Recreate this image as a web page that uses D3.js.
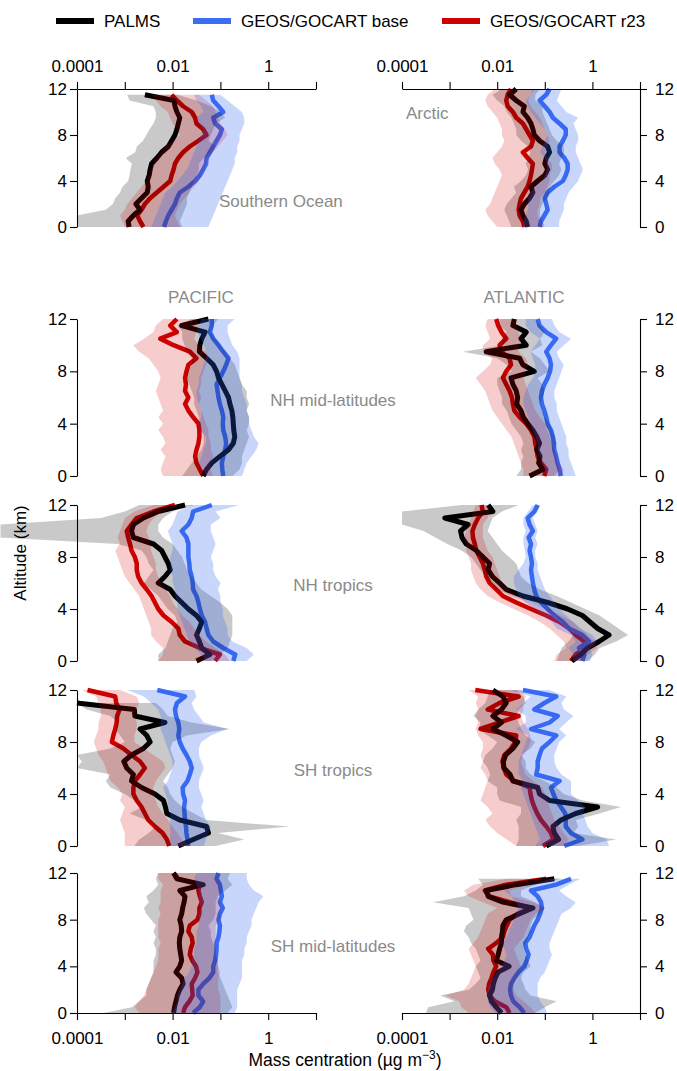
<!DOCTYPE html>
<html>
<head>
<meta charset="utf-8">
<script src="https://cdn.jsdelivr.net/npm/d3@7"></script>
<style>
  body { margin: 0; background: #fff; }
  svg { display: block; }
  text { font-family: "Liberation Sans", Arial, Helvetica, sans-serif; }
</style>
</head>
<body>
<svg id="chart" width="677" height="1071"></svg>
<script>
// Vertical profiles of aerosol mass concentration, PALMS vs two GEOS/GOCART runs.
// Values below are log10(concentration in µg m-3), one per altitude level.

const ALT = [0, 0.5, 1, 1.5, 2, 2.5, 3, 3.5, 4, 4.5, 5, 5.5, 6, 6.5, 7, 7.5, 8, 8.5, 9, 9.5, 10, 10.5, 11, 11.5, 12];

// --- Southern Ocean
const soPalms   = [-2.91,-2.93,-2.82,-2.68,-2.77,-2.65,-2.53,-2.51,-2.53,-2.49,-2.47,-2.44,-2.33,-2.23,-2.09,-2.02,-1.95,-1.91,-1.88,-1.85,-1.91,-1.95,-1.97,-2.58,null];
const soPalmsLo = [-4,-4,-4,-3.4,-3.25,-3.2,-3.1,-3.05,-2.93,-2.9,-2.88,-2.85,-2.98,-2.78,-2.75,-2.62,-2.55,-2.48,-2.4,-2.35,-2.35,-2.4,-2.9,-2.95,null];
const soPalmsHi = [-1.8,-1.85,-1.8,-1.75,-1.7,-1.7,-1.65,-1.6,-1.55,-1.5,-1.45,-1.45,-1.35,-1.2,-1.1,-1.25,-1.2,-1.15,-1.1,-0.9,-1.0,-1.2,-1.5,-1.9,null];
const soBase    = [-2.18,-2.14,-2.09,-2.02,-1.95,-1.91,-1.85,-1.67,-1.53,-1.43,-1.36,-1.3,-1.29,-1.22,-1.15,-1.08,-1.01,-0.97,-1.11,-1.15,-0.94,-1.04,-1.15,-1.18,null];
const soBaseLo  = [-2.45,-2.4,-2.35,-2.3,-2.25,-2.2,-2.15,-2.0,-1.9,-1.8,-1.7,-1.65,-1.6,-1.55,-1.5,-1.45,-1.4,-1.35,-1.45,-1.5,-1.35,-1.4,-1.5,-1.55,null];
const soBaseHi  = [-1.25,-1.2,-1.15,-1.1,-1.05,-1.0,-0.95,-0.9,-0.85,-0.8,-0.75,-0.7,-0.7,-0.65,-0.65,-0.6,-0.6,-0.55,-0.5,-0.5,-0.55,-0.7,-0.85,-1.0,null];
const soR23     = [-2.61,-2.68,-2.74,-2.65,-2.58,-2.47,-2.33,-2.19,-2.05,-2.02,-1.98,-1.95,-1.88,-1.78,-1.64,-1.46,-1.29,-1.36,-1.5,-1.53,-1.6,-1.78,-1.91,-2.02,null];
const soR23Lo   = [-3.0,-3.05,-3.1,-3.0,-2.95,-2.85,-2.75,-2.65,-2.55,-2.5,-2.45,-2.4,-2.35,-2.25,-2.15,-2.0,-1.85,-1.9,-2.0,-2.05,-2.1,-2.25,-2.35,-2.45,null];
const soR23Hi   = [-1.85,-1.9,-1.95,-1.9,-1.85,-1.75,-1.65,-1.55,-1.45,-1.4,-1.35,-1.3,-1.25,-1.15,-1.05,-0.95,-0.85,-0.9,-1.0,-1.05,-1.1,-1.15,-1.3,-1.45,null];

// --- Arctic
const arcPalms   = [-1.36,-1.39,-1.46,-1.5,-1.43,-1.32,-1.25,-1.29,-1.15,-1.0,-0.94,-1.0,-0.97,-0.9,-0.94,-1.11,-1.22,-1.25,-1.29,-1.36,-1.46,-1.43,-1.6,-1.74,-1.6];
const arcPalmsLo = [-1.7,-1.75,-1.8,-1.85,-1.8,-1.7,-1.6,-1.65,-1.5,-1.4,-1.35,-1.4,-1.35,-1.3,-1.35,-1.5,-1.6,-1.6,-1.65,-1.7,-1.8,-1.85,-2.0,-2.1,-1.9];
const arcPalmsHi = [-1.0,-1.05,-1.1,-1.1,-1.05,-0.95,-0.9,-0.9,-0.8,-0.7,-0.65,-0.7,-0.65,-0.6,-0.6,-0.75,-0.85,-0.9,-0.95,-1.0,-1.05,-1.05,-1.2,-1.2,-1.1];
const arcBase    = [-1.11,-1.08,-1.01,-0.94,-0.97,-1.0,-0.94,-0.8,-0.62,-0.56,-0.52,-0.52,-0.59,-0.69,-0.69,-0.62,-0.56,-0.56,-0.69,-0.83,-0.9,-1.0,-1.11,-0.97,-0.9];
const arcBaseLo  = [-1.45,-1.45,-1.4,-1.35,-1.35,-1.35,-1.3,-1.2,-1.05,-1.0,-0.95,-0.95,-1.0,-1.1,-1.05,-1.0,-0.95,-1.0,-1.1,-1.2,-1.3,-1.35,-1.4,-1.3,-1.25];
const arcBaseHi  = [-0.7,-0.7,-0.65,-0.6,-0.6,-0.55,-0.5,-0.4,-0.3,-0.25,-0.2,-0.25,-0.3,-0.35,-0.35,-0.3,-0.3,-0.35,-0.4,-0.3,-0.55,-0.65,-0.75,-0.7,-0.65];
const arcR23     = [-1.43,-1.46,-1.53,-1.55,-1.53,-1.5,-1.43,-1.36,-1.32,-1.29,-1.27,-1.25,-1.36,-1.46,-1.29,-1.25,-1.32,-1.39,-1.46,-1.6,-1.67,-1.78,-1.81,-1.78,-1.71];
const arcR23Lo   = [-2.0,-2.1,-2.2,-2.25,-2.15,-2.1,-2.05,-2.0,-1.95,-1.9,-1.95,-2.05,-2.1,-2.0,-1.9,-1.85,-1.9,-1.9,-1.95,-2.0,-2.1,-2.2,-2.25,-2.2,-2.05];
const arcR23Hi   = [-1.05,-1.1,-1.15,-1.15,-1.1,-1.1,-1.0,-0.95,-0.9,-0.9,-0.85,-0.85,-0.95,-1.0,-0.95,-0.9,-0.95,-1.0,-1.05,-1.1,-1.2,-1.3,-1.35,-1.3,-1.2];

// --- Pacific, NH mid-latitudes
const pacNmPalms   = [-1.36,-1.29,-1.18,-1.01,-0.83,-0.73,-0.7,-0.72,-0.73,-0.74,-0.76,-0.8,-0.83,-0.9,-0.97,-1.04,-1.08,-1.15,-1.29,-1.44,-1.43,-1.39,-1.32,-1.81,-1.25];
const pacNmPalmsLo = [-1.8,-1.7,-1.6,-1.5,-1.4,-1.35,-1.35,-1.4,-1.45,-1.45,-1.5,-1.55,-1.55,-1.6,-1.65,-1.7,-1.7,-1.6,-1.6,-1.7,-1.75,-1.8,-1.8,-1.9,-1.6];
const pacNmPalmsHi = [-0.75,-0.6,-0.55,-0.55,-0.5,-0.45,-0.4,-0.45,-0.4,-0.4,-0.45,-0.4,-0.45,-0.45,-0.55,-0.6,-0.65,-0.7,-0.8,-0.9,-1.0,-1.1,-1.2,-1.15,-1.05];
const pacNmBase    = [-0.94,-0.96,-0.97,-0.94,-0.9,-0.88,-0.9,-0.94,-0.95,-0.94,-0.97,-1.01,-1.04,-1.06,-1.08,-1.01,-0.94,-0.88,-0.83,-0.94,-1.04,-1.15,-1.22,-1.18,-1.18];
const pacNmBaseLo  = [-1.3,-1.35,-1.45,-1.4,-1.35,-1.3,-1.3,-1.4,-1.45,-1.4,-1.4,-1.45,-1.5,-1.5,-1.45,-1.45,-1.4,-1.35,-1.3,-1.3,-1.35,-1.4,-1.5,-1.45,-1.4];
const pacNmBaseHi  = [-0.55,-0.5,-0.45,-0.35,-0.25,-0.2,-0.3,-0.35,-0.4,-0.4,-0.45,-0.45,-0.5,-0.55,-0.55,-0.6,-0.6,-0.6,-0.6,-0.65,-0.75,-0.8,-0.85,-0.85,-0.7];
const pacNmR23     = [-1.36,-1.43,-1.5,-1.53,-1.5,-1.46,-1.44,-1.44,-1.46,-1.57,-1.67,-1.74,-1.67,-1.74,-1.72,-1.74,-1.71,-1.67,-1.5,-1.64,-1.98,-2.26,-1.91,-2.05,-1.91];
const pacNmR23Lo   = [-2.2,-2.25,-2.2,-2.15,-2.25,-2.15,-2.2,-2.3,-2.2,-2.3,-2.2,-2.25,-2.3,-2.35,-2.3,-2.25,-2.3,-2.4,-2.5,-2.7,-2.82,-2.6,-2.4,-2.35,-2.2];
const pacNmR23Hi   = [-1.15,-1.2,-1.2,-1.15,-1.2,-1.2,-1.25,-1.25,-1.3,-1.35,-1.4,-1.45,-1.4,-1.45,-1.4,-1.4,-1.35,-1.3,-1.25,-1.3,-1.45,-1.55,-1.5,-1.45,-1.5];

// --- Atlantic, NH mid-latitudes
const atlNmPalms   = [-1.32,-1.04,-1.13,-1.1,-1.17,-1.11,-1.17,-1.25,-1.36,-1.45,-1.5,-1.59,-1.57,-1.6,-1.67,-1.71,-1.22,-1.46,-1.53,-2.23,-1.39,-1.5,-1.39,-1.67,-1.64];
const atlNmPalmsLo = [-1.6,-1.5,-1.5,-1.45,-1.5,-1.45,-1.5,-1.6,-1.7,-1.75,-1.8,-1.9,-1.9,-1.95,-2.0,-2.0,-1.7,-1.8,-2.0,-2.72,-1.9,-1.9,-1.8,-1.95,-1.95];
const atlNmPalmsHi = [-0.8,-0.7,-0.75,-0.75,-0.8,-0.75,-0.8,-0.85,-0.9,-1.0,-1.05,-1.1,-1.05,-1.0,-1.05,-1.15,-0.9,-1.0,-1.1,-1.3,-1.05,-1.1,-1.0,-1.1,-1.2];
const atlNmBase    = [-0.66,-0.69,-0.73,-0.76,-0.8,-0.81,-0.83,-0.87,-0.94,-0.97,-1.01,-1.06,-1.08,-1.06,-1.01,-0.94,-0.89,-0.87,-0.9,-0.97,-0.87,-0.76,-0.97,-1.11,-1.15];
const atlNmBaseLo  = [-0.95,-1.0,-1.05,-1.1,-1.15,-1.15,-1.2,-1.25,-1.3,-1.35,-1.4,-1.45,-1.45,-1.4,-1.35,-1.25,-1.2,-1.2,-1.25,-1.3,-1.2,-1.1,-1.3,-1.4,-1.4];
const atlNmBaseHi  = [-0.35,-0.4,-0.45,-0.5,-0.5,-0.55,-0.55,-0.6,-0.65,-0.7,-0.75,-0.75,-0.8,-0.8,-0.75,-0.7,-0.65,-0.6,-0.7,-0.75,-0.6,-0.45,-0.7,-0.8,-0.85];
const atlNmR23     = [-1.01,-0.97,-1.08,-1.15,-1.17,-1.2,-1.22,-1.29,-1.39,-1.53,-1.64,-1.67,-1.69,-1.74,-1.81,-1.88,-1.81,-1.71,-1.74,-1.91,-1.95,-1.81,-1.91,-1.98,-2.02];
const atlNmR23Lo   = [-1.45,-1.45,-1.5,-1.55,-1.6,-1.65,-1.7,-1.8,-1.9,-2.0,-2.1,-2.15,-2.2,-2.25,-2.35,-2.45,-2.3,-2.15,-2.1,-2.3,-2.3,-2.15,-2.2,-2.25,-2.2];
const atlNmR23Hi   = [-0.65,-0.6,-0.7,-0.75,-0.8,-0.85,-0.9,-0.95,-1.0,-1.1,-1.2,-1.25,-1.3,-1.35,-1.4,-1.45,-1.4,-1.35,-1.4,-1.55,-1.55,-1.5,-1.55,-1.6,-1.6];

// --- Pacific, NH tropics
const pacNtPalms   = [-1.5,-1.22,-1.39,-1.44,-1.5,-1.44,-1.39,-1.5,-1.67,-1.81,-1.95,-2.05,-2.3,-2.16,-2.05,-2.09,-2.16,-2.23,-2.4,-2.82,-2.86,-2.82,-2.61,-2.3,-1.74];
const pacNtPalmsLo = [-2.3,-2.3,-2.15,-2.1,-2.05,-2.0,-1.9,-1.95,-2.1,-2.2,-2.3,-2.45,-2.6,-2.5,-2.4,-2.5,-2.55,-2.65,-3.15,-5.6,-5.6,-5.6,-3.5,-3.0,-2.7];
const pacNtPalmsHi = [-1.2,-1.0,-0.85,-0.8,-0.75,-0.75,-0.75,-0.75,-0.85,-1.0,-1.2,-1.4,-1.5,-1.6,-1.7,-1.75,-1.8,-1.9,-2.0,-2.2,-2.3,-2.3,-2.2,-2.0,-1.55];
const pacNtBase    = [-0.73,-0.69,-0.94,-1.15,-1.25,-1.29,-1.32,-1.39,-1.43,-1.46,-1.5,-1.57,-1.58,-1.6,-1.64,-1.65,-1.67,-1.67,-1.67,-1.71,-1.81,-1.67,-1.6,-1.57,-1.18];
const pacNtBaseLo  = [-1.3,-1.4,-1.55,-1.65,-1.7,-1.75,-1.8,-1.85,-1.9,-1.9,-1.95,-1.95,-2.0,-2.0,-2.05,-2.05,-2.05,-2.0,-2.0,-2.05,-2.1,-2.0,-1.95,-1.9,-1.6];
const pacNtBaseHi  = [-0.45,-0.3,-0.45,-0.75,-0.85,-0.85,-0.9,-0.95,-0.95,-1.0,-1.0,-1.05,-1.0,-1.1,-1.15,-1.15,-1.2,-1.15,-1.1,-1.15,-1.2,-1.2,-1.0,-1.1,-0.6];
const pacNtR23     = [-1.11,-1.01,-1.43,-1.74,-1.85,-1.88,-2.02,-2.19,-2.3,-2.37,-2.44,-2.54,-2.65,-2.72,-2.75,-2.75,-2.79,-2.86,-2.89,-2.93,-2.96,-2.86,-2.75,-2.4,-1.95];
const pacNtR23Lo   = [-2.3,-2.2,-2.2,-2.35,-2.45,-2.45,-2.5,-2.55,-2.6,-2.65,-2.7,-2.8,-2.9,-3.0,-3.05,-3.1,-3.15,-3.2,-3.1,-3.15,-3.1,-3.05,-3.0,-2.8,-2.4];
const pacNtR23Hi   = [-0.8,-0.9,-1.1,-1.3,-1.45,-1.55,-1.65,-1.8,-1.9,-2.0,-2.05,-2.15,-2.25,-2.3,-2.35,-2.35,-2.4,-2.45,-2.45,-2.5,-2.55,-2.5,-2.4,-2.2,-1.8];

// --- Atlantic, NH tropics
const atlNtPalms   = [-0.43,-0.24,-0.1,0.14,0.35,0.11,-0.05,-0.21,-0.52,-0.94,-1.46,-1.81,-1.95,-2.1,-2.19,-2.16,-2.3,-2.44,-2.65,-2.74,-2.77,-2.61,-3.1,-2.09,-2.19];
const atlNtPalmsLo = [-0.75,-0.7,-0.65,-0.5,-0.4,-0.55,-0.65,-0.8,-1.0,-1.3,-1.7,-2.0,-2.15,-2.25,-2.35,-2.45,-2.55,-2.75,-3.05,-3.3,-3.55,-4.0,-4.0,-4.0,-2.75];
const atlNtPalmsHi = [-0.1,0.05,0.15,0.5,0.75,0.55,0.35,0.15,-0.15,-0.45,-0.75,-1.1,-1.35,-1.5,-1.55,-1.6,-1.75,-1.9,-2.0,-2.1,-2.2,-2.15,-2.1,-1.9,-1.55];
const atlNtBase    = [-0.21,-0.17,-0.28,-0.07,-0.21,-0.49,-0.62,-0.8,-0.94,-1.08,-1.18,-1.22,-1.25,-1.27,-1.29,-1.27,-1.29,-1.32,-1.29,-1.34,-1.25,-1.32,-1.36,-1.22,-1.15];
const atlNtBaseLo  = [-0.4,-0.4,-0.5,-0.35,-0.45,-0.75,-0.85,-1.05,-1.2,-1.4,-1.55,-1.6,-1.65,-1.65,-1.55,-1.45,-1.4,-1.42,-1.45,-1.45,-1.4,-1.45,-1.45,-1.35,-1.25];
const atlNtBaseHi  = [-0.05,0.0,-0.05,0.1,0.0,-0.25,-0.4,-0.55,-0.7,-0.8,-0.9,-1.0,-1.05,-1.1,-1.15,-1.15,-1.2,-1.2,-1.15,-1.2,-1.15,-1.2,-1.25,-1.15,-1.1];
const atlNtR23     = [-0.45,-0.35,-0.14,-0.17,-0.35,-0.49,-0.69,-0.97,-1.29,-1.6,-1.88,-2.02,-2.16,-2.23,-2.26,-2.3,-2.37,-2.44,-2.47,-2.51,-2.52,-2.47,-2.4,-2.3,-2.33];
const atlNtR23Lo   = [-0.8,-0.75,-0.55,-0.6,-0.75,-0.9,-1.1,-1.35,-1.65,-1.95,-2.2,-2.35,-2.45,-2.5,-2.55,-2.55,-2.6,-2.65,-2.65,-2.7,-2.65,-2.6,-2.55,-2.5,-2.45];
const atlNtR23Hi   = [-0.2,-0.1,0.1,0.05,-0.1,-0.25,-0.4,-0.65,-0.95,-1.3,-1.6,-1.75,-1.9,-1.95,-2.0,-2.05,-2.1,-2.2,-2.25,-2.3,-2.3,-2.3,-2.2,-2.15,-2.2];

// --- Pacific, SH tropics
const pacStPalms   = [-1.88,-1.57,-1.25,-1.29,-1.85,-2.12,-2.15,-2.19,-2.37,-2.65,-2.86,-2.82,-2.96,-3.02,-2.86,-2.61,-2.47,-2.54,-2.68,-2.16,-2.79,-2.8,-4.0,null,null];
const pacStPalmsLo = [-2.8,-2.7,-2.5,-2.35,-2.55,-2.9,-2.65,-2.8,-3.0,-3.3,-3.4,-3.3,-4.0,-3.9,-4.0,-3.3,-3.0,-3.1,-3.2,-3.15,-3.3,-3.8,-4.0,null,null];
const pacStPalmsHi = [-1.1,-0.5,-1.05,0.45,-1.3,-1.55,-1.8,-1.95,-2.05,-2.1,-2.2,-2.1,-2.0,-1.95,-2.0,-2.05,-2.0,-1.7,-0.8,-1.6,-2.1,-2.2,-2.35,null,null];
const pacStBase    = [-1.67,-1.69,-1.71,-1.72,-1.74,-1.75,-1.76,-1.74,-1.78,-1.79,-1.69,-1.64,-1.6,-1.64,-1.71,-1.79,-1.85,-1.88,-1.86,-1.88,-1.93,-1.95,-1.91,-1.74,-2.32];
const pacStBaseLo  = [-2.05,-2.05,-2.05,-2.05,-2.05,-2.05,-2.1,-2.1,-2.15,-2.2,-2.1,-2.05,-2.0,-2.0,-2.05,-2.1,-2.15,-2.2,-2.25,-2.25,-2.25,-2.3,-2.45,-2.6,-2.95];
const pacStBaseHi  = [-1.35,-1.3,-1.25,-1.2,-1.3,-1.35,-1.4,-1.35,-1.4,-1.45,-1.45,-1.4,-1.35,-1.4,-1.45,-1.45,-1.4,-1.2,-0.85,-1.35,-1.45,-1.55,-1.6,-1.5,-1.55];
const pacStR23     = [-2.07,-2.12,-2.21,-2.37,-2.51,-2.58,-2.65,-2.75,-2.82,-2.82,-2.79,-2.68,-2.58,-2.68,-2.86,-3.03,-3.27,-3.24,-3.2,-3.17,-3.16,-3.11,-3.18,-3.2,-3.78];
const pacStR23Lo   = [-3.0,-3.0,-3.0,-3.05,-3.1,-3.05,-3.0,-3.1,-3.05,-3.15,-3.3,-3.35,-3.4,-3.45,-3.55,-3.6,-3.65,-3.6,-3.55,-3.55,-3.5,-3.5,-3.55,-3.6,-3.9];
const pacStR23Hi   = [-1.65,-1.8,-1.9,-2.0,-2.1,-2.2,-2.3,-2.35,-2.4,-2.4,-2.35,-2.25,-2.15,-2.2,-2.4,-2.6,-2.8,-2.8,-2.75,-2.75,-2.8,-2.75,-2.7,-2.75,-3.1];

// --- Atlantic, SH tropics
const atlStPalms   = [-0.97,-0.71,-0.8,-0.83,-0.66,-0.35,0.11,-0.9,-1.11,-1.15,-1.67,-1.73,-1.86,-1.87,-1.82,-1.67,-1.57,-1.81,-2.09,-1.91,-2.09,-1.91,-1.81,-1.88,-2.09];
const atlStPalmsLo = [-1.6,-1.55,-1.55,-1.55,-1.6,-1.5,-1.5,-1.95,-2.0,-2.0,-2.2,-2.15,-2.2,-2.3,-2.25,-2.1,-2.0,-2.2,-2.4,-2.35,-2.5,-2.4,-2.25,-2.2,-2.15];
const atlStPalmsHi = [-0.3,0.5,-0.4,-0.3,-0.35,0.15,0.6,-0.2,-0.6,-0.75,-1.0,-1.3,-1.4,-1.4,-1.5,-1.3,-1.2,-1.4,-1.5,-1.55,-1.6,-1.55,-1.4,-1.45,-1.6];
const atlStBase    = [-0.59,-0.21,-0.45,-0.56,-0.56,-0.57,-0.66,-0.76,-0.82,-0.87,-0.69,-1.18,-1.15,-1.15,-1.11,-1.06,-0.9,-0.76,-1.29,-0.9,-0.73,-1.22,-1.01,-0.76,-1.46];
const atlStBaseLo  = [-1.2,-1.1,-1.15,-1.2,-1.25,-1.3,-1.35,-1.4,-1.45,-1.5,-1.45,-1.55,-1.55,-1.55,-1.5,-1.45,-1.4,-1.35,-1.6,-1.4,-1.4,-1.6,-1.45,-1.3,-1.7];
const atlStBaseHi  = [0.35,0.3,0.0,-0.1,-0.15,-0.2,-0.15,-0.3,-0.45,-0.45,-0.45,-0.65,-0.75,-0.8,-0.8,-0.75,-0.7,-0.55,-0.7,-0.55,-0.4,-0.6,-0.65,-0.55,-0.9];
const atlStR23     = [-1.04,-0.82,-0.87,-0.97,-1.08,-1.16,-1.22,-1.27,-1.3,-1.32,-1.64,-1.81,-1.86,-1.89,-1.85,-1.71,-1.62,-1.6,-2.35,-1.95,-1.55,-2.2,-1.95,-1.55,-2.46];
const atlStR23Lo   = [-1.6,-1.8,-2.0,-2.15,-2.25,-2.1,-2.2,-2.35,-2.3,-2.25,-2.2,-2.25,-2.35,-2.3,-2.35,-2.3,-2.3,-2.4,-2.45,-2.4,-2.45,-2.4,-2.45,-2.4,-2.6];
const atlStR23Hi   = [-0.6,-0.5,-0.6,-0.7,-0.8,-0.85,-0.9,-0.95,-1.0,-1.05,-1.25,-1.4,-1.45,-1.5,-1.45,-1.35,-1.3,-1.3,-1.35,-1.45,-1.5,-1.45,-1.45,-1.4,-1.5];

// --- Pacific, SH mid-latitudes
const pacSmPalms   = [-1.98,-1.96,-1.93,-1.9,-1.85,-1.78,-1.81,-1.93,-1.85,-1.81,-1.83,-1.85,-1.86,-1.85,-1.81,-1.82,-1.85,-1.81,-1.79,-1.76,-1.74,-1.85,-1.36,-1.91,-1.98];
const pacSmPalmsLo = [-3.45,-2.85,-2.7,-2.55,-2.55,-2.5,-2.45,-2.4,-2.4,-2.4,-2.35,-2.35,-2.4,-2.35,-2.4,-2.35,-2.45,-2.55,-2.6,-2.5,-2.55,-2.4,-2.3,-2.35,-2.3];
const pacSmPalmsHi = [-0.85,-0.75,-0.8,-0.85,-0.9,-0.95,-1.0,-1.05,-1.05,-1.05,-1.1,-1.1,-1.15,-1.2,-1.2,-1.25,-1.15,-1.1,-1.1,-1.1,-1.05,-0.9,-0.75,-0.85,-0.8];
const pacSmBase    = [-1.57,-1.43,-1.36,-1.46,-1.46,-1.36,-1.23,-1.15,-1.15,-1.11,-1.09,-1.08,-1.08,-1.04,-1.02,-1.01,-1.04,-1.01,-0.95,-1.01,-0.97,-0.99,-1.01,-1.08,-1.04];
const pacSmBaseLo  = [-2.0,-1.95,-1.9,-1.9,-1.85,-1.8,-1.75,-1.65,-1.6,-1.6,-1.55,-1.55,-1.5,-1.5,-1.5,-1.45,-1.45,-1.45,-1.4,-1.45,-1.45,-1.45,-1.5,-1.55,-1.5];
const pacSmBaseHi  = [-0.7,-0.65,-0.65,-0.65,-0.65,-0.6,-0.55,-0.55,-0.55,-0.55,-0.5,-0.5,-0.45,-0.45,-0.4,-0.35,-0.35,-0.3,-0.25,-0.2,-0.1,-0.3,-0.4,-0.45,-0.45];
const pacSmR23     = [-1.78,-1.74,-1.65,-1.58,-1.59,-1.6,-1.53,-1.48,-1.51,-1.59,-1.64,-1.62,-1.58,-1.6,-1.67,-1.64,-1.48,-1.44,-1.44,-1.39,-1.43,-1.46,-1.43,-1.88,-1.98];
const pacSmR23Lo   = [-2.7,-2.8,-2.7,-2.6,-2.55,-2.5,-2.45,-2.4,-2.35,-2.3,-2.3,-2.3,-2.25,-2.3,-2.3,-2.3,-2.3,-2.25,-2.3,-2.25,-2.25,-2.25,-2.2,-2.3,-2.3];
const pacSmR23Hi   = [-1.0,-1.0,-1.0,-1.0,-1.05,-1.05,-1.05,-1.0,-1.05,-1.1,-1.1,-1.1,-1.1,-1.1,-1.1,-1.1,-1.0,-1.0,-1.0,-1.0,-1.05,-1.0,-1.0,-1.05,-1.1];

// --- Atlantic, SH mid-latitudes
const atlSmPalms   = [-1.91,-2.02,-2.12,-2.16,-2.1,-2.08,-2.04,-1.98,-1.75,-2.02,-1.98,-1.95,-1.91,-1.91,-1.89,-1.88,-1.81,-1.53,-1.25,-1.88,-2.19,-2.23,-1.6,-0.8,null];
const atlSmPalmsLo = [-3.5,-3.45,-2.9,-3.2,-2.6,-2.45,-2.35,-2.4,-2.45,-2.35,-2.4,-2.45,-2.55,-2.6,-2.7,-2.65,-2.5,-2.55,-2.6,-3.35,-2.7,-2.45,-2.3,-2.4,null];
const atlSmPalmsHi = [-1.2,-1.0,-0.75,-1.3,-1.4,-1.45,-1.5,-1.45,-1.3,-1.35,-1.4,-1.45,-1.4,-1.35,-1.3,-1.3,-1.25,-1.1,-1.0,-1.2,-1.5,-1.5,-1.2,-0.7,null];
const atlSmBase    = [-1.43,-1.53,-1.66,-1.71,-1.73,-1.71,-1.64,-1.55,-1.43,-1.38,-1.34,-1.39,-1.41,-1.32,-1.27,-1.22,-1.15,-1.1,-1.06,-1.08,-1.15,-1.29,-0.76,-0.45,null];
const atlSmBaseLo  = [-2.05,-2.15,-2.2,-2.2,-2.2,-2.15,-2.1,-2.0,-1.9,-1.85,-1.8,-1.85,-1.9,-1.8,-1.75,-1.7,-1.65,-1.6,-1.55,-1.6,-1.7,-1.85,-1.3,-0.85,null];
const atlSmBaseHi  = [-0.95,-1.0,-1.1,-1.15,-1.15,-1.15,-1.1,-1.0,-0.95,-0.9,-0.85,-0.9,-0.9,-0.85,-0.8,-0.75,-0.7,-0.65,-0.45,-0.35,-0.55,-0.7,-0.5,-0.25,null];
const atlSmR23     = [-1.74,-1.81,-2.05,-2.16,-2.19,-2.17,-2.12,-2.08,-2.02,-2.08,-2.09,-2.19,-2.02,-1.88,-1.85,-1.8,-1.74,-1.57,-1.29,-1.74,-2.16,-2.26,-1.81,-0.97,null];
const atlSmR23Lo   = [-2.6,-2.75,-2.8,-3.1,-2.7,-2.6,-2.55,-2.5,-2.45,-2.5,-2.55,-2.6,-2.5,-2.4,-2.35,-2.3,-2.25,-2.2,-2.0,-2.3,-2.6,-2.7,-2.5,-1.8,null];
const atlSmR23Hi   = [-1.2,-1.3,-1.45,-1.6,-1.65,-1.65,-1.6,-1.55,-1.5,-1.55,-1.6,-1.65,-1.55,-1.45,-1.4,-1.35,-1.3,-1.2,-1.0,-1.25,-1.7,-1.75,-1.35,-0.65,null];

const X_TICKS = [1e-4, 1e-3, 1e-2, 1e-1, 1, 10];
const X_TICK_LABELS = ["0.0001", "", "0.01", "", "1", ""];
const Y_TICKS = [0, 4, 8, 12];

const SERIES = ["palms", "base", "r23"];
const LEGEND_LABELS = ["PALMS", "GEOS/GOCART base", "GEOS/GOCART r23"];

const panels = [
  { col: 0, row: 0, palms: [soPalms, soPalmsLo, soPalmsHi], base: [soBase, soBaseLo, soBaseHi], r23: [soR23, soR23Lo, soR23Hi] },
  { col: 1, row: 0, palms: [arcPalms, arcPalmsLo, arcPalmsHi], base: [arcBase, arcBaseLo, arcBaseHi], r23: [arcR23, arcR23Lo, arcR23Hi] },
  { col: 0, row: 1, palms: [pacNmPalms, pacNmPalmsLo, pacNmPalmsHi], base: [pacNmBase, pacNmBaseLo, pacNmBaseHi], r23: [pacNmR23, pacNmR23Lo, pacNmR23Hi] },
  { col: 1, row: 1, palms: [atlNmPalms, atlNmPalmsLo, atlNmPalmsHi], base: [atlNmBase, atlNmBaseLo, atlNmBaseHi], r23: [atlNmR23, atlNmR23Lo, atlNmR23Hi] },
  { col: 0, row: 2, palms: [pacNtPalms, pacNtPalmsLo, pacNtPalmsHi], base: [pacNtBase, pacNtBaseLo, pacNtBaseHi], r23: [pacNtR23, pacNtR23Lo, pacNtR23Hi] },
  { col: 1, row: 2, palms: [atlNtPalms, atlNtPalmsLo, atlNtPalmsHi], base: [atlNtBase, atlNtBaseLo, atlNtBaseHi], r23: [atlNtR23, atlNtR23Lo, atlNtR23Hi] },
  { col: 0, row: 3, palms: [pacStPalms, pacStPalmsLo, pacStPalmsHi], base: [pacStBase, pacStBaseLo, pacStBaseHi], r23: [pacStR23, pacStR23Lo, pacStR23Hi] },
  { col: 1, row: 3, palms: [atlStPalms, atlStPalmsLo, atlStPalmsHi], base: [atlStBase, atlStBaseLo, atlStBaseHi], r23: [atlStR23, atlStR23Lo, atlStR23Hi] },
  { col: 0, row: 4, palms: [pacSmPalms, pacSmPalmsLo, pacSmPalmsHi], base: [pacSmBase, pacSmBaseLo, pacSmBaseHi], r23: [pacSmR23, pacSmR23Lo, pacSmR23Hi] },
  { col: 1, row: 4, palms: [atlSmPalms, atlSmPalmsLo, atlSmPalmsHi], base: [atlSmBase, atlSmBaseLo, atlSmBaseHi], r23: [atlSmR23, atlSmR23Lo, atlSmR23Hi] },
];

// layout
const COLS = [[77, 316], [402, 640]];
const ROWS = [[89, 227], [319, 476], [505, 661], [690, 846], [873, 1013]];
const LINE_COLOR = { palms: "#000000", base: "#3c6cf2", r23: "#cc0000" };
const LINE_WIDTH = { palms: 5, base: 4.5, r23: 4.5 };
const BAND_COLOR = { palms: "#000000", base: "#2f62f5", r23: "#d40000" };
const BAND_OPACITY = { palms: 0.21, base: 0.26, r23: 0.2 };
const FONT = 17;
const GREY = "#8a8a8a";

const svg = d3.select("#chart");
svg.append("rect").attr("width", 677).attr("height", 1071).attr("fill", "#fff");

function styleAxis(g) {
  g.attr("font-size", FONT).attr("font-family", '"Liberation Sans", Arial, sans-serif');
  g.selectAll("path.domain").attr("stroke", "#000").attr("stroke-width", 1.1);
  g.selectAll(".tick line").attr("stroke", "#000").attr("stroke-width", 1.1);
  g.selectAll(".tick text").attr("fill", "#000");
}

panels.forEach(p => {
  const [x0, x1] = COLS[p.col];
  const [y0, y1] = ROWS[p.row];
  const x = d3.scaleLog().domain([1e-4, 10]).range([x0, x1]);
  const y = d3.scaleLinear().domain([0, 12]).range([y1, y0]);
  const g = svg.append("g");

  const rowsOf = key => ALT.map((a, i) => ({
    a, v: p[key][0][i], lo: p[key][1][i], hi: p[key][2][i]
  }));

  const line = d3.line()
    .defined(d => d.v != null)
    .x(d => x(Math.pow(10, d.v)))
    .y(d => y(d.a));
  const area = d3.area()
    .defined(d => d.lo != null && d.hi != null)
    .y(d => y(d.a))
    .x0(d => x(Math.pow(10, d.lo)))
    .x1(d => x(Math.pow(10, d.hi)));

  // lines first, translucent ranges over them
  ["r23", "base", "palms"].forEach(k => {
    g.append("path").datum(rowsOf(k))
      .attr("d", line)
      .attr("fill", "none")
      .attr("stroke", LINE_COLOR[k])
      .attr("stroke-width", LINE_WIDTH[k])
      .attr("stroke-linejoin", "round");
  });
  ["palms", "r23", "base"].forEach(k => {
    g.append("path").datum(rowsOf(k))
      .attr("d", area)
      .attr("fill", BAND_COLOR[k])
      .attr("fill-opacity", BAND_OPACITY[k])
      .attr("stroke", "none");
  });

  // y axis: left column on the left, right column on the right
  if (p.col === 0) {
    svg.append("g").attr("transform", `translate(${x0},0)`)
      .call(d3.axisLeft(y).tickValues(Y_TICKS).tickSize(7).tickSizeOuter(0).tickPadding(3))
      .call(styleAxis);
  } else {
    svg.append("g").attr("transform", `translate(${x1},0)`)
      .call(d3.axisRight(y).tickValues(Y_TICKS).tickSize(7).tickSizeOuter(0).tickPadding(8))
      .call(styleAxis);
  }

  const fmt = d => X_TICK_LABELS[X_TICKS.indexOf(d)];
  if (p.row === 0) {
    svg.append("g").attr("transform", `translate(0,${y0})`)
      .call(d3.axisTop(x).tickValues(X_TICKS).tickFormat(fmt).tickSize(7).tickSizeOuter(0).tickPadding(10))
      .call(styleAxis);
  }
  if (p.row === ROWS.length - 1) {
    svg.append("g").attr("transform", `translate(0,${y1})`)
      .call(d3.axisBottom(x).tickValues(X_TICKS).tickFormat(fmt).tickSize(7).tickSizeOuter(0).tickPadding(12))
      .call(styleAxis);
  }
});

// region labels
const labels = [
  { text: "Southern Ocean", x: 219, y: 207, anchor: "start" },
  { text: "Arctic", x: 406, y: 119, anchor: "start" },
  { text: "PACIFIC", x: 201, y: 303, anchor: "middle" },
  { text: "ATLANTIC", x: 524, y: 303, anchor: "middle" },
  { text: "NH mid-latitudes", x: 333, y: 406, anchor: "middle" },
  { text: "NH tropics", x: 333, y: 591, anchor: "middle" },
  { text: "SH tropics", x: 333, y: 776, anchor: "middle" },
  { text: "SH mid-latitudes", x: 333, y: 952, anchor: "middle" },
];
svg.append("g").selectAll("text").data(labels).join("text")
  .attr("x", d => d.x).attr("y", d => d.y)
  .attr("text-anchor", d => d.anchor)
  .attr("font-size", FONT).attr("fill", GREY)
  .text(d => d.text);

// axis titles
svg.append("text")
  .attr("transform", "translate(26,553) rotate(-90)")
  .attr("text-anchor", "middle").attr("font-size", FONT).attr("fill", "#000")
  .text("Altitude (km)");

const xt = svg.append("text")
  .attr("x", 345).attr("y", 1066)
  .attr("text-anchor", "middle").attr("font-size", 17.5).attr("fill", "#000");
xt.append("tspan").text("Mass centration (\u00b5g m");
xt.append("tspan").attr("font-size", 12).attr("dy", -7).text("\u22123");
xt.append("tspan").attr("dy", 7).text(")");

// legend
const legendX = [56, 193, 442];
const lg = svg.append("g").selectAll("g").data(SERIES).join("g")
  .attr("transform", (d, i) => `translate(${legendX[i]},21)`);
lg.append("line").attr("x1", 0).attr("x2", 38).attr("y1", 0).attr("y2", 0)
  .attr("stroke", d => LINE_COLOR[d]).attr("stroke-width", 6);
lg.append("text").attr("x", 48).attr("y", 6)
  .attr("font-size", FONT).attr("fill", "#000")
  .text((d, i) => LEGEND_LABELS[i]);
</script>
</body>
</html>
